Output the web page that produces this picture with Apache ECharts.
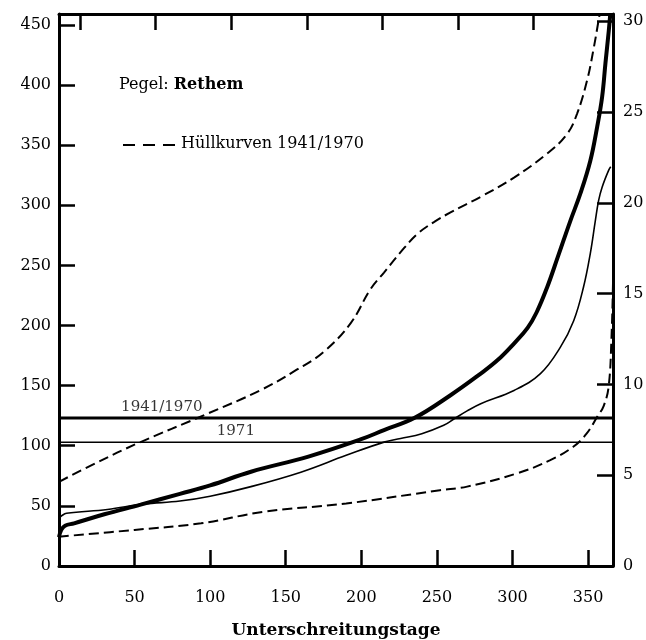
<!DOCTYPE html>
<html>
<head>
<meta charset="utf-8">
<script src="https://cdn.jsdelivr.net/npm/echarts@6/dist/echarts.min.js"></script>
<style>
  html, body { margin: 0; padding: 0; background: #fff; }
  #chart { width: 646px; height: 640px; }
</style>
</head>
<body>
<div id="chart"></div>
<script>
// ---------- data ----------
const xTicks = [0, 50, 100, 150, 200, 250, 300, 350];
const leftTicks = [0, 50, 100, 150, 200, 250, 300, 350, 400, 450];
const rightTicks = [0, 5, 10, 15, 20, 25, 30];
const topTickDays = [14, 64, 114, 164, 214, 264, 314];

// upper envelope (dashed)
const upperDays = [0, 25, 52, 97, 133, 157, 175, 193, 206, 215, 226, 237, 248, 259, 279, 301, 323, 336, 342.7, 349.4, 353.8, 357, 357.7];
const upperVals = [70, 86, 102, 126, 146, 163, 178, 202, 230, 244, 261, 276, 286, 294, 307, 323, 343, 359, 376, 404, 431, 454, 459];

// lower envelope (dashed)
const lowerDays = [0, 50, 94, 135, 190, 252, 270, 303, 325, 340, 349, 356, 360.3, 363.6, 365.5, 366.5];
const lowerVals = [24.4, 30, 35.5, 45, 52, 63, 66, 77, 88, 99, 110, 124, 133, 149, 190, 235];

// mean duration curve 1941/1970 (thick)
const meanDays = [0, 1.5, 4, 10, 30, 54, 80, 100, 127, 165, 199, 215, 235, 259, 279, 290, 301, 310, 316, 323, 330, 338, 345, 351.5, 356, 359.3, 361.5, 363.7, 364.7];
const meanVals = [24, 30, 33.5, 35.5, 43, 51, 60, 67, 78.4, 91, 105, 113, 123, 142, 160, 171, 185, 198, 211, 232, 257, 286, 310, 337, 365, 390, 418, 445, 459];

// duration curve 1971 (thin)
const y1971Days = [0, 2, 5, 32, 56, 80, 100, 127, 160, 190, 215, 226, 240, 254.5, 261, 270, 279, 301, 318.5, 331.7, 340.5, 347, 351.5, 354.8, 357, 359.3, 363.6, 365];
const y1971Vals = [39.7, 42, 43.8, 47, 51.5, 54, 58, 66, 78, 92, 103, 106, 110, 117, 122, 129, 135, 146, 160, 182, 204, 232, 260, 287, 304, 315, 329, 332];

// mean discharge levels
const mqDays = [0, 366.5];
const mq4170 = 123;
const mq1971 = 103;
const mqLabels = ['1941/1970', '1971'];
const mqLabelDays = [68, 117];

// ---------- chart ----------
const pairs = (xs, ys) => xs.map((x, i) => [x, ys[i]]);
const FONT = 'DejaVu Serif';
const chart = echarts.init(document.getElementById('chart'), null, { renderer: 'canvas' });

const tickCommon = { inside: true, length: 16, lineStyle: { color: '#000', width: 2.5 } };
const lineCommon = { show: true, onZero: false, lineStyle: { color: '#000', width: 3 } };
const labelCommon = { color: '#000', fontFamily: FONT, fontSize: 16 };

chart.setOption({
  backgroundColor: '#fff',
  animation: false,
  grid: { left: 59, right: 33, top: 14, bottom: 74, containLabel: false, outerBoundsMode: 'none' },
  graphic: [{
    type: 'text', left: 119, top: 77,
    style: {
      text: 'Pegel: {b|Rethem}',
      fill: '#000', font: '16px "DejaVu Serif"',
      rich: { b: { fontWeight: 'bold', fontFamily: FONT, fontSize: 16, fill: '#000' } }
    }
  }, {
    type: 'line', shape: { x1: 123, y1: 145, x2: 175, y2: 145 },
    style: { stroke: '#000', lineWidth: 1.8, lineDash: [12, 8] }
  }, {
    type: 'text', left: 181, top: 136,
    style: { text: 'Hüllkurven 1941/1970', fill: '#000', font: '16px "DejaVu Serif"' }
  }],
  xAxis: [{
    type: 'value', position: 'bottom', min: 0, max: 366.5, interval: 50,
    axisLine: lineCommon, axisTick: tickCommon, splitLine: { show: false },
    axisLabel: Object.assign({ margin: 24, showMaxLabel: false,
      formatter: v => xTicks.includes(v) ? String(v) : '' }, labelCommon),
    name: 'Unterschreitungstage', nameLocation: 'middle', nameGap: 56,
    nameTextStyle: { color: '#000', fontFamily: FONT, fontSize: 17, fontWeight: 'bold' }
  }, {
    type: 'value', position: 'top', min: 0, max: 366.5,
    axisLine: lineCommon,
    axisTick: Object.assign({ customValues: topTickDays }, tickCommon),
    axisLabel: { show: false }, splitLine: { show: false }
  }],
  yAxis: [{
    type: 'value', position: 'left', min: 0, max: 459, interval: 50,
    axisLine: lineCommon, axisTick: tickCommon, splitLine: { show: false },
    axisLabel: Object.assign({ margin: 8, showMaxLabel: false,
      formatter: v => leftTicks.includes(v) ? String(v) : '' }, labelCommon)
  }, {
    type: 'value', position: 'right', min: 0, max: 30.4, interval: 5,
    axisLine: lineCommon, axisTick: tickCommon, splitLine: { show: false },
    axisLabel: Object.assign({ margin: 10, showMaxLabel: false,
      formatter: v => rightTicks.includes(v) ? String(v) : '' }, labelCommon)
  }],
  series: [
    {
      name: 'Hüllkurven 1941/1970 (oben)', type: 'line', data: pairs(upperDays, upperVals),
      symbol: 'none', smooth: 0.4,
      lineStyle: { color: '#000', width: 2, type: [10, 5] }
    },
    {
      name: 'Hüllkurven 1941/1970 (unten)', type: 'line', data: pairs(lowerDays, lowerVals),
      symbol: 'none', smooth: 0.4,
      lineStyle: { color: '#000', width: 2, type: [10, 5] }
    },
    {
      name: '1941/1970', type: 'line', data: pairs(meanDays, meanVals),
      symbol: 'none', smooth: 0.4,
      lineStyle: { color: '#000', width: 4 }
    },
    {
      name: '1971', type: 'line', data: pairs(y1971Days, y1971Vals),
      symbol: 'none', smooth: 0.4,
      lineStyle: { color: '#000', width: 1.6 }
    },
    {
      name: 'MQ 1941/1970', type: 'line', data: mqDays.map(d => [d, mq4170]),
      symbol: 'none', lineStyle: { color: '#000', width: 3 }
    },
    {
      name: 'MQ 1971', type: 'line', data: mqDays.map(d => [d, mq1971]),
      symbol: 'none', lineStyle: { color: '#000', width: 1.5 }
    },
    {
      name: 'MQ labels', type: 'scatter', symbolSize: 1,
      itemStyle: { color: 'rgba(0,0,0,0)' },
      data: [
        { value: [mqLabelDays[0], mq4170], name: mqLabels[0] },
        { value: [mqLabelDays[1], mq1971], name: mqLabels[1] }
      ],
      label: { show: true, position: 'top', distance: 3, formatter: p => p.name,
        color: '#000', fontFamily: FONT, fontSize: 15 }
    }
  ]
});
</script>
</body>
</html>
